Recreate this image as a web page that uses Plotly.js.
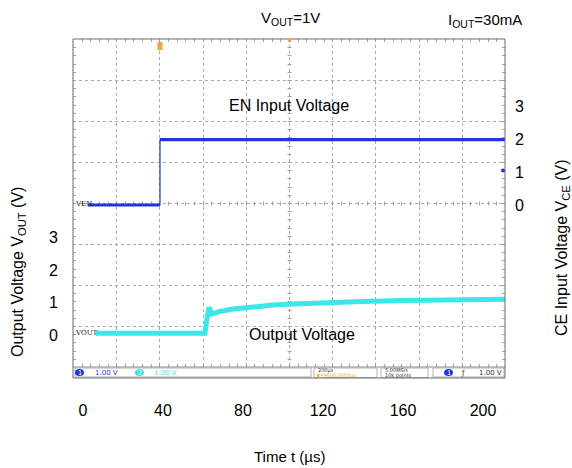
<!DOCTYPE html>
<html><head><meta charset="utf-8">
<script src="https://cdn.plot.ly/plotly-3.0.1.min.js"></script>
<style>html,body{margin:0;padding:0;background:#fff}</style>
</head><body><div id="chart" style="width:572px;height:468px"></div>
<script>
// ---- data ----
const timeTicks = [0, 40, 80, 120, 160, 200];
const voutTicks = [0, 1, 2, 3];
const enTicks = [0, 1, 2, 3];
const enTime = [2.5, 38.5, 38.5, 211];
const enVolt = [0, 0, 2, 2];
const voutTime = [6.5, 61, 62, 63, 64.5, 68, 75, 85, 95, 105, 120, 140, 160, 180, 200, 211];
const voutVolt = [0.05, 0.05, 0.5, 0.85, 0.65, 0.72, 0.8, 0.87, 0.92, 0.95, 1.0, 1.03, 1.06, 1.08, 1.1, 1.1];

// ---- geometry ----
const L = 73, R = 505, T = 39, B = 367;
const px = v => (v - L) / (R - L);
const py = v => (B - v) / (B - T);
const FONT = "Liberation Sans, Arial, Helvetica, sans-serif";
const EN_COLOR = "#2236d6", VOUT_COLOR = "#3de6e8";

const shapes = [];
function line(x0, y0, x1, y1, color, width, dash, layer) {
  shapes.push({type: "line", xref: "paper", yref: "paper", x0: px(x0), y0: py(y0), x1: px(x1), y1: py(y1),
    line: {color: color, width: width, dash: dash || "solid"}, layer: layer || "below"});
}
function rect(x0, y0, x1, y1, color, fill, width, layer) {
  shapes.push({type: "rect", xref: "paper", yref: "paper", x0: px(x0), y0: py(y0), x1: px(x1), y1: py(y1),
    line: {color: color, width: width == null ? 1 : width}, fillcolor: fill || "rgba(0,0,0,0)", layer: layer || "below"});
}
function oval(x0, y0, x1, y1, fill) {
  shapes.push({type: "circle", xref: "paper", yref: "paper", x0: px(x0), y0: py(y0), x1: px(x1), y1: py(y1),
    line: {width: 0}, fillcolor: fill, layer: "above"});
}
// graticule
const dx = (R - L) / 10, dy = (B - T) / 8;
for (let i = 1; i < 10; i++) {
  const x = Math.round(L + dx * i) + 0.5;
  line(x, T, x, B, "#a9a9a9", 1, "dot");
}
for (let j = 1; j < 8; j++) {
  const y = Math.round(T + dy * j) + 0.5;
  line(L, y, R, y, "#a9a9a9", 1, "dot");
}
const cx = Math.round(L + dx * 5) + 0.5, cy = Math.round(T + dy * 4) + 0.5;
for (let k = 1; k < 50; k++) {
  const x = Math.round(L + dx / 5 * k) + 0.5;
  line(x, cy - 2, x, cy + 2, "#a0a0a0", 1);
  line(x, T, x, T + 3, "#a0a0a0", 1);
  line(x, B - 3, x, B, "#a0a0a0", 1);
}
for (let k = 1; k < 40; k++) {
  const y = Math.round(T + dy / 5 * k) + 0.5;
  line(cx - 2, y, cx + 2, y, "#a0a0a0", 1);
  line(L, y, L + 3, y, "#a0a0a0", 1);
  line(R - 3, y, R, y, "#a0a0a0", 1);
}
// frame and status bar
rect(L, T, R, 378, "#6a6a6a", null, 1, "above");
line(L, B, R, B, "#8a8a8a", 1);
rect(75, 368, 311, 377, "#a0a0a0", "#ffffff", 0.8);
rect(314, 368, 377, 377.5, "#a0a0a0", "#ffffff", 0.8);
rect(381, 368, 428, 377.5, "#a0a0a0", "#ffffff", 0.8);
rect(433, 368, 504, 377, "#a0a0a0", "#ffffff", 0.8);
oval(75, 369, 84, 376, EN_COLOR);
oval(135, 369, 144, 376, VOUT_COLOR);
oval(444, 369, 453, 376, EN_COLOR);
// scope markers
shapes.push({type: "rect", xref: "paper", yref: "paper", x0: px(157.5), y0: py(42), x1: px(162.5), y1: py(50),
  line: {width: 0}, fillcolor: "#f2a531", layer: "above"});
shapes.push({type: "rect", xref: "paper", yref: "paper", x0: px(288), y0: py(39), x1: px(291), y1: py(42),
  line: {width: 0}, fillcolor: "#f2a531", layer: "above"});
oval(501, 168.5, 505, 172.5, EN_COLOR);

// ---- traces ----
const traces = [
  {x: enTime, y: enVolt, yaxis: "y2", mode: "lines", line: {color: EN_COLOR, width: 1.2}, hoverinfo: "skip"},
  {x: enTime.slice(0, 2), y: enVolt.slice(0, 2), yaxis: "y2", mode: "lines", line: {color: EN_COLOR, width: 3}, hoverinfo: "skip"},
  {x: enTime.slice(2), y: enVolt.slice(2), yaxis: "y2", mode: "lines", line: {color: EN_COLOR, width: 3.2}, hoverinfo: "skip"},
  {x: voutTime, y: voutVolt, yaxis: "y", mode: "lines", line: {color: VOUT_COLOR, width: 5}, hoverinfo: "skip"}
];

function ann(x, y, text, size, opts) {
  return Object.assign({xref: "paper", yref: "paper", x: px(x), y: py(y), text: text, showarrow: false,
    xanchor: "center", yanchor: "middle", borderpad: 0, font: {family: FONT, size: size, color: "#000"}}, opts || {});
}
const small = (c, s) => ({family: "DejaVu Sans, Arial, sans-serif", size: s || 6.5, color: c});
const annotations = [
  ann(290, 18, "V<sub>OUT</sub>=1V", 15),
  ann(485, 20, "I<sub>OUT</sub>=30mA", 15),
  ann(289, 106, "EN Input Voltage", 16),
  ann(302, 334, "Output Voltage", 16),
  ann(18, 272, "Output Voltage V<sub>OUT</sub> (V)", 16, {textangle: -90}),
  ann(562, 248, "CE Input Voltage V<sub>CE</sub> (V)", 16, {textangle: -90}),
  ann(289, 456, "Time t (µs)", 15),
  ann(74, 204, "VEN", 7, {xanchor: "left", font: {family: "DejaVu Serif, serif", size: 7, color: "#222"}}),
  ann(74, 333, "VOUT", 7, {xanchor: "left", font: {family: "DejaVu Serif, serif", size: 7, color: "#222"}}),
  ann(79.5, 372.5, "1", 6, {font: small("#fff")}),
  ann(139.5, 372.5, "2", 6, {font: small("#fff")}),
  ann(448.5, 372.5, "1", 6, {font: small("#fff")}),
  ann(94, 372.5, "1.00 V", 6, {xanchor: "left", font: small(EN_COLOR, 7)}),
  ann(153, 372.5, "1.00 V", 6, {xanchor: "left", font: small(VOUT_COLOR, 7)}),
  ann(317, 370.3, "200µs", 5, {xanchor: "left", font: small("#333", 5)}),
  ann(316, 375.2, "▮+▾600.0000µs", 5, {xanchor: "left", font: small("#f2a531", 5)}),
  ann(384, 370.3, "5.00MS/s", 5, {xanchor: "left", font: small("#333", 5)}),
  ann(384, 375.2, "10k points", 5, {xanchor: "left", font: small("#333", 5)}),
  ann(463, 372.5, "ƒ", 6, {font: small("#333", 7)}),
  ann(503, 372.5, "1.00 V", 6, {xanchor: "right", font: small("#333", 7)})
];

const axisFont = {family: FONT, size: 16, color: "#000"};
const layout = {
  width: 572, height: 468,
  margin: {l: L, r: 572 - R, t: T, b: 468 - B},
  paper_bgcolor: "#fff", plot_bgcolor: "#fff",
  showlegend: false,
  xaxis: {range: [-5, 211], tickvals: timeTicks, ticktext: timeTicks.map(String), showgrid: false, zeroline: false,
    showline: false, ticks: "", ticklabelstandoff: 32, tickfont: axisFont, fixedrange: true},
  yaxis: {range: [-0.985, 9.108], tickvals: voutTicks, ticktext: voutTicks.map(String), side: "left",
    showgrid: false, zeroline: false, showline: false, ticks: "", ticklabelstandoff: 14, tickfont: axisFont},
  yaxis2: {range: [-4.954, 5.076], tickvals: enTicks, ticktext: enTicks.map(String), side: "right", overlaying: "y",
    showgrid: false, zeroline: false, showline: false, ticks: "", ticklabelstandoff: 9, tickfont: axisFont},
  shapes: shapes,
  annotations: annotations
};
Plotly.newPlot("chart", traces, layout, {displayModeBar: false, staticPlot: true});
</script>
</body></html>
